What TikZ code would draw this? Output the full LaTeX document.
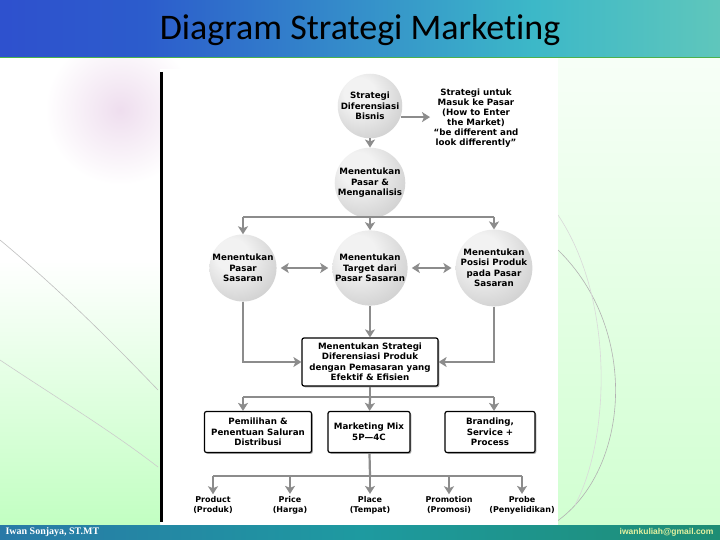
\documentclass[tikz,border=0pt]{standalone}
\usepackage{fontspec}
\setmainfont{Carlito}
\newfontfamily\diafont{DejaVu Sans}
\newfontfamily\footfont{Liberation Serif}
\newfontfamily\mailfont{Liberation Sans}
\usetikzlibrary{arrows.meta,shadows}
\definecolor{arrgray}{HTML}{8C8C8C}
\definecolor{hdrA}{HTML}{3434D2}
\definecolor{hdrB}{HTML}{2C5CCC}
\definecolor{hdrC}{HTML}{3CB8C8}
\definecolor{hdrD}{HTML}{A2E2A4}
\definecolor{ftrA}{HTML}{3358AE}
\definecolor{ftrB}{HTML}{1E9AA0}
\definecolor{ftrC}{HTML}{1F8048}
\definecolor{mailcol}{HTML}{E4F2A0}
\definecolor{sphA}{HTML}{F2F2F2}
\definecolor{sphB}{HTML}{CDCDCD}
\definecolor{sphC}{HTML}{A8A8A8}
\definecolor{sphD}{HTML}{909090}
\pgfdeclarehorizontalshading{hdrshade}{100bp}{color(0bp)=(hdrA); color(35bp)=(hdrB); color(62bp)=(hdrC); color(100bp)=(hdrD)}
\pgfdeclarehorizontalshading{ftrshade}{100bp}{color(0bp)=(ftrA); color(50bp)=(ftrB); color(100bp)=(ftrC)}
\pgfdeclareradialshading{sphere}{\pgfpoint{-10bp}{12bp}}{color(0bp)=(sphA); color(12bp)=(sphA); color(36bp)=(sphB); color(56bp)=(sphC); color(66bp)=(sphD)}
\tikzset{>={Stealth[length=8pt,width=10pt,inset=2pt]},
    ball/.style={circle, shading=sphere, minimum size=64pt,
        inner sep=0pt, align=center, font=\diafont\bfseries\fontsize{8.7}{10.5}\selectfont},
    box/.style={draw, line width=1.2pt, rounded corners=2pt, fill=white, align=center,
        inner sep=2pt, drop shadow={shadow xshift=1.3pt, shadow yshift=-1.3pt, fill=gray!70, opacity=1},
        font=\diafont\bfseries\fontsize{8.7}{10.5}\selectfont},
    note/.style={align=center, font=\diafont\bfseries\fontsize{8.7}{10}\selectfont},
    lbl/.style={align=center, inner sep=2pt, font=\diafont\bfseries\fontsize{8}{10}\selectfont},
    link/.style={draw=arrgray, line width=2.2pt},
    arr/.style={link, ->},
    dbl/.style={link, <->, shorten <=4pt, shorten >=4pt}}
\begin{document}
\begin{tikzpicture}[x=1pt, y=-1pt]
    \useasboundingbox (0,0) rectangle (720,540);
    \fill[white] (0,0) rectangle (720,540);
    \shade[top color=white, bottom color=green!24!white] (0,260) rectangle (160,525);
    \shade[inner color=violet!13, outer color=white] (120,110) circle (75);
    \shade[top color=green!3!white, bottom color=green!18!white] (558,57) rectangle (720,525);
    \draw[gray!50, line width=0.6pt] (0,240) .. controls (60,290) and (110,340) .. (158,390);
    \draw[gray!40, line width=0.6pt] (0,360) .. controls (60,400) and (110,430) .. (158,467);
    \draw[gray!60, line width=0.6pt] (558,250) .. controls (640,330) and (630,470) .. (556,522);
    \draw[gray!30, line width=0.6pt] (558,215) .. controls (615,300) and (610,440) .. (575,505);
    \shade[shading=hdrshade] (0,0) rectangle (720,57);
    \draw[green!40!gray, line width=1pt] (0,57.5) -- (720,57.5);
    \shade[shading=ftrshade] (0,525) rectangle (720,540);
    \node[font=\fontsize{36}{40}\selectfont] (title) at (360,30) {Diagram Strategi Market\kern0pt ing};
    \node[anchor=west, text=white, font=\footfont\bfseries\fontsize{10}{11}\selectfont] (author) at (2,532.5) {Iwan Sonjaya, ST.MT};
    \node[anchor=east, text=mailcol, font=\mailfont\bfseries\fontsize{8.5}{10}\selectfont] (mail) at (717,532.5) {iwankuliah@gmail.com};
    \fill[white] (160,69) rectangle (558,523);
    \draw[line width=3pt] (161.5,72) -- (161.5,522);

    \node[ball] (bisnis) at (370,106) {Strategi\\Diferensiasi\\Bisnis};
    \node[note] (masuk) at (476,118) {Strategi untuk\\Masuk ke Pasar\\(How to Enter\\the Market)\\“be different and\\look differently”};
    \node[ball] (pasar) at (370,183) {Menentukan\\Pasar \&\\Menganalisis};
    \node[ball] (sasaran) at (243,268) {Menentukan\\Pasar\\Sasaran};
    \node[ball] (target) at (370,268) {Menentukan\\Target dari\\Pasar Sasaran};
    \node[ball] (posisi) at (494,268) {Menentukan\\Posisi Produk\\pada Pasar\\Sasaran};
    \node[box, minimum width=136pt, minimum height=48pt] (strat) at (370,362)
        {Menentukan Strategi\\Diferensiasi Produk\\dengan Pemasaran yang\\Efektif \& Efisien};
    \node[box, minimum width=107pt, minimum height=41pt] (distrib) at (258,432) {Pemilihan \&\\Penentuan Saluran\\Distribusi};
    \node[box, minimum width=82pt, minimum height=41pt] (mix) at (369,432) {Marketing Mix\\5P—4C};
    \node[box, minimum width=90pt, minimum height=41pt] (brand) at (490,432) {Branding,\\Service +\\Process};
    \node[lbl] (prod) at (213,505) {Product\\(Produk)};
    \node[lbl] (price) at (290,505) {Price\\(Harga)};
    \node[lbl] (place) at (370,505) {Place\\(Tempat)};
    \node[lbl] (promo) at (449,505) {Promotion\\(Promosi)};
    \node[lbl] (probe) at (522,505) {Probe\\(Penyelidikan)};
    \coordinate (f1) at (370,217);
    \coordinate (f2) at (370,397);
    \coordinate (f3) at (370,476);

    \draw[arr] (bisnis.-20) -- (bisnis.-20 -| masuk.west);
    \draw[arr] (bisnis) -- (pasar);
    \draw[link] (pasar) -- (f1);
    \draw[link] (f1 -| sasaran) -- (f1 -| posisi);
    \draw[arr] (f1 -| sasaran) -- (sasaran);
    \draw[arr] (f1) -- (target);
    \draw[arr] (f1 -| posisi) -- (posisi);
    \draw[dbl] (sasaran) -- (target);
    \draw[dbl] (target) -- (posisi);
    \draw[arr] (sasaran) |- (strat);
    \draw[arr] (posisi) |- (strat);
    \draw[arr] (target) -- (strat);
    \draw[link] (strat) -- (f2);
    \draw[link] (f2 -| sasaran) -- (f2 -| posisi);
    \draw[arr] (f2 -| sasaran) -- (sasaran |- distrib.north);
    \draw[arr] (f2) -- (mix);
    \draw[arr] (f2 -| posisi) -- (posisi |- brand.north);
    \draw[link] (mix) -- (f3);
    \draw[link] (f3 -| prod) -- (f3 -| probe);
    \foreach \n in {prod,price,place,promo,probe}
        \draw[arr] (f3 -| \n) -- (\n);
\end{tikzpicture}
\end{document}
